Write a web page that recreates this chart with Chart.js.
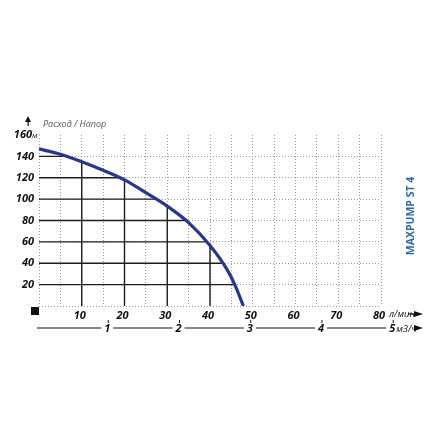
<!DOCTYPE html>
<html>
<head>
<meta charset="utf-8">
<script src="https://cdn.jsdelivr.net/npm/chart.js@4.4.0/dist/chart.umd.min.js"></script>
<style>
  html, body { margin: 0; padding: 0; background: #fff; }
  #wrap { width: 440px; height: 440px; }
</style>
</head>
<body>
<div id="wrap"><canvas id="pumpChart" width="440" height="440"></canvas></div>
<script>
// pump curve: flow (l/min) vs head (m)
const flow = [0, 5, 10, 15, 20, 25, 30, 35, 40, 44, 45.8, 47.8];
const head = [147, 142, 135, 127, 118, 106, 93.5, 78, 56.5, 34, 20, 0];

// axis ticks
const flowTicks = [10, 20, 30, 40, 50, 60, 70, 80];   // l/min
const headTicks = [20, 40, 60, 80, 100, 120, 140, 160]; // m
const m3hTicks = [1, 2, 3, 4, 5];                       // m3/h

// solid grid lines under the curve
const darkX = [10, 20, 30, 40];
const darkY = [20, 40, 60, 80, 100, 120, 140];

const FONT = '"Open Sans", "DejaVu Sans", sans-serif';
const DOT = '#9a9a9a';

function arrowRight(ctx, x0, x1, y) {
    ctx.beginPath();
    ctx.moveTo(x0, y);
    ctx.lineTo(x1 - 6, y);
    ctx.stroke();
    ctx.beginPath();
    ctx.moveTo(x1, y);
    ctx.lineTo(x1 - 9, y - 3);
    ctx.lineTo(x1 - 9, y + 3);
    ctx.closePath();
    ctx.fill();
}

const gridUnderCurve = {
    id: 'gridUnderCurve',
    beforeDatasetsDraw(chart) {
        const {ctx, chartArea, scales: {x, y}} = chart;
        const line = chart.getDatasetMeta(0).dataset;
        line.updateControlPoints(chartArea, 'x');
        ctx.save();
        ctx.beginPath();
        line.path(ctx);
        ctx.lineTo(chartArea.left, chartArea.bottom);
        ctx.closePath();
        ctx.clip();
        ctx.strokeStyle = '#1c1c1c';
        ctx.lineWidth = 1.4;
        darkX.forEach(v => {
            const px = x.getPixelForValue(v);
            ctx.beginPath();
            ctx.moveTo(px, chartArea.top);
            ctx.lineTo(px, chartArea.bottom);
            ctx.stroke();
        });
        darkY.forEach(v => {
            const py = y.getPixelForValue(v);
            ctx.beginPath();
            ctx.moveTo(chartArea.left, py);
            ctx.lineTo(chartArea.right, py);
            ctx.stroke();
        });
        ctx.restore();
    }
};

const extras = {
    id: 'extras',
    afterDraw(chart) {
        const {ctx, chartArea, scales: {x, y}} = chart;
        ctx.save();
        ctx.fillStyle = '#111';
        ctx.strokeStyle = '#111';
        ctx.lineWidth = 1.2;

        // origin square
        ctx.fillRect(chartArea.left - 8, chartArea.bottom + 1, 8, 8);

        // top label 160 м
        const yTop = y.getPixelForValue(160);
        ctx.textBaseline = 'middle';
        ctx.textAlign = 'right';
        ctx.font = 'italic bold 11px ' + FONT;
        ctx.fillText('160', 32, yTop);
        ctx.textAlign = 'left';
        ctx.font = 'italic 8px ' + FONT;
        ctx.fillText('м', 32, yTop + 1);

        // y arrow and title
        ctx.beginPath();
        ctx.moveTo(28, 116);
        ctx.lineTo(25, 122);
        ctx.lineTo(31, 122);
        ctx.closePath();
        ctx.fill();
        ctx.fillRect(27.5, 121, 1.2, 5);
        ctx.fillStyle = '#555';
        ctx.font = 'italic 9px ' + FONT;
        ctx.fillText('Расход / Напор', 43, 124);

        // l/min unit and arrow
        const x80 = x.getPixelForValue(80);
        const yRow1 = chartArea.bottom + 8;
        ctx.fillStyle = '#111';
        ctx.font = 'italic 9.5px ' + FONT;
        ctx.fillText('л/мин', x80 + 8, yRow1);
        arrowRight(ctx, x80 + 27, x80 + 42, yRow1);

        // m3/h axis
        const yRow2 = chartArea.bottom + 22;
        let prev = chartArea.left - 2;
        ctx.textAlign = 'center';
        m3hTicks.forEach(n => {
            const px = x.getPixelForValue(n * 1000 / 60) - 3;
            ctx.beginPath();
            ctx.moveTo(prev, yRow2);
            ctx.lineTo(px - 6, yRow2);
            ctx.stroke();
            ctx.fillRect(px + 0.5, yRow2 - 8, 1, 3);
            ctx.font = 'italic bold 11px ' + FONT;
            ctx.fillText(String(n), px, yRow2 + 1);
            prev = px + 6;
        });
        const x5 = x.getPixelForValue(5 * 1000 / 60) - 3;
        ctx.textAlign = 'left';
        ctx.font = 'italic 9.5px ' + FONT;
        ctx.fillText('м3/ч', x5 + 4, yRow2 + 1);
        arrowRight(ctx, x5 + 23, x80 + 42, yRow2);

        // model name
        ctx.translate(411, 216);
        ctx.rotate(-Math.PI / 2);
        ctx.textAlign = 'center';
        ctx.fillStyle = '#2a6aab';
        ctx.font = 'bold 10.5px ' + FONT;
        ctx.fillText('MAXPUMP ST 4', 0, 0);
        ctx.restore();
    }
};

const ctx = document.getElementById('pumpChart').getContext('2d');
const pumpChart = new Chart(ctx, {
    type: 'line',
    data: {
        datasets: [{
            data: flow.map((f, i) => ({x: f, y: head[i]})),
            borderColor: '#27388c',
            borderWidth: 3.2,
            pointRadius: 0,
            cubicInterpolationMode: 'monotone',
            fill: false
        }]
    },
    options: {
        responsive: false,
        animation: false,
        layout: { padding: { left: 0, right: 59, top: 135, bottom: 114 } },
        plugins: { legend: { display: false }, tooltip: { enabled: false } },
        scales: {
            x: {
                type: 'linear',
                min: 0,
                max: 80,
                afterFit: s => { s.height = 20; },
                grid: { color: DOT, lineWidth: 1, drawTicks: false },
                border: { display: false, dash: [1, 2] },
                ticks: {
                    stepSize: 5,
                    padding: 3,
                    labelOffset: -2,
                    color: '#111',
                    font: { family: FONT, size: 11, weight: 'bold', style: 'italic' },
                    callback: v => flowTicks.includes(v) ? String(v) : ''
                }
            },
            y: {
                min: 0,
                max: 160,
                afterFit: s => { s.width = 39; },
                grid: {
                    color: c => c.tick && c.tick.value === 160 ? 'rgba(0,0,0,0)' : DOT,
                    lineWidth: 1,
                    drawTicks: false
                },
                border: { display: false, dash: [1, 2] },
                ticks: {
                    stepSize: 20,
                    padding: 5,
                    color: '#111',
                    font: { family: FONT, size: 11, weight: 'bold', style: 'italic' },
                    callback: v => headTicks.includes(v) && v !== 160 ? String(v) : ''
                }
            }
        }
    },
    plugins: [gridUnderCurve, extras]
});
</script>
</body>
</html>
